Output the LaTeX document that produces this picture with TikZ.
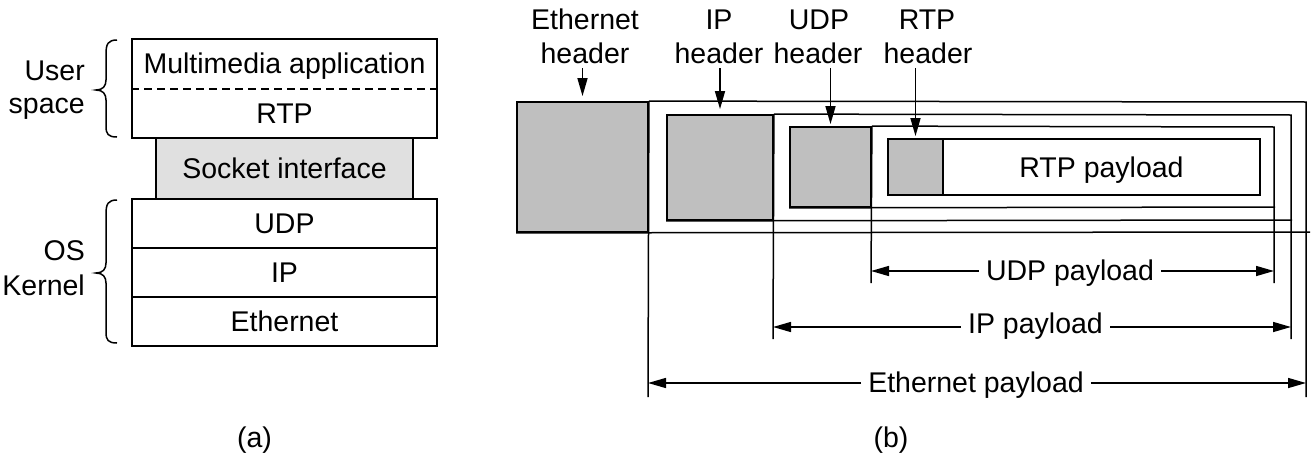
\documentclass[tikz,border=0pt]{standalone}
\usepackage{fontspec}
\setmainfont{Liberation Sans}
\usetikzlibrary{arrows.meta}
\definecolor{hdrgray}{gray}{0.75}
\definecolor{sockgray}{gray}{0.88}
\begin{document}
\begin{tikzpicture}[x=1pt,y=-1pt,
  lbl/.style={font=\fontsize{28.5pt}{34pt}\selectfont, inner sep=0pt},
  layer/.style={draw, line width=1.8pt, inner sep=0pt, minimum width=305pt, minimum height=49pt,
    font=\fontsize{28.5pt}{34pt}\selectfont, text height=20.4pt, text depth=0pt},
  hdr/.style={draw, line width=1.8pt, fill=hdrgray, inner sep=0pt},
  frame/.style={line width=1.5pt},
  tip/.style={-{Triangle[length=18pt,width=10pt]}, line width=1.5pt},
  dimlbl/.style={lbl, inner xsep=7pt, anchor=base},
  brace/.style={line width=1.5pt}
]
\useasboundingbox (0,0) rectangle (1312,458);

% ---------- (a) protocol stack ----------
\node[layer, minimum height=99pt] (user) at (284.5,88.5) {};
\coordinate (dashy) at (0,89);
\draw[line width=1.5pt, dash pattern=on 8pt off 5pt] (user.west |- dashy) -- (user.east |- dashy);
\node[lbl, anchor=base] (mm) at (284.5,73) {Multimedia application};
\node[lbl, anchor=base] (rtp) at (284.5,123) {RTP};
\node[layer, fill=sockgray, minimum width=257pt, minimum height=61pt] (sock) at (284.5,168.5) {Socket interface};
\node[layer] (udp) at (284.5,223.5) {UDP};
\node[layer] (ip) at (284.5,272.5) {IP};
\node[layer] (eth) at (284.5,321.5) {Ethernet};

\node[lbl, anchor=base east] (us1) at (85,80) {User};
\node[lbl, anchor=base east] (us2) at (85,113) {space};
\node[lbl, anchor=base east] (os1) at (85,260) {OS};
\node[lbl, anchor=base east] (os2) at (85,295) {Kernel};

\draw[brace] (117,40) .. controls (108,40) and (106,44) .. (106,54) -- (106,80)
  .. controls (106,86) and (103,90) .. (96,90)
  .. controls (103,90) and (106,94) .. (106,100) -- (106,126)
  .. controls (106,134) and (108,137) .. (117,137);
\draw[brace] (117,200) .. controls (108,200) and (106,204) .. (106,214) -- (106,263)
  .. controls (106,269) and (103,273) .. (96,273)
  .. controls (103,273) and (106,277) .. (106,283) -- (106,332)
  .. controls (106,340) and (108,343) .. (117,343);

\node[lbl, anchor=base] (la) at (254.5,447) {(a)};

% ---------- (b) packet nesting ----------
\node[hdr, minimum width=131pt, minimum height=130pt] (ethh) at (582.5,167) {};
\node[hdr, minimum width=106pt, minimum height=105pt] (iph) at (720,167.5) {};
\node[hdr, minimum width=81pt, minimum height=80pt] (udph) at (830.5,167) {};
\node[hdr, minimum width=55pt, minimum height=56pt] (rtph) at (915.5,167) {};
\node[draw, line width=1.8pt, inner sep=0pt, minimum width=317pt, minimum height=56pt,
  font=\fontsize{28.5pt}{34pt}\selectfont, text height=20.4pt, text depth=0pt] (rtpp) at (1101.5,167) {RTP payload};

% frames
\draw[frame] (ethh.north east) -- (1306,102) -- (1306,397);
\draw[frame] (ethh.south west) -- (1310,232);
\draw[frame] (ethh.north east) -- (648,397);
\draw[frame] (iph.north east) -- (1291,115) -- (1291,339);
\draw[frame] (iph.south west) -- (1292,220);
\draw[frame] (iph.north east) -- (773,339);
\draw[frame] (udph.north east) -- (1274,127) -- (1274,283);
\draw[frame] (udph.south west) -- (1275,207);
\draw[frame] (udph.north east) -- (871,283);

% header labels
\node[lbl, anchor=base] (ethl1) at (585,29) {Ethernet};
\node[lbl, anchor=base] (ethl2) at (585,63) {header};
\node[lbl, anchor=base] (ipl1) at (719,29) {IP};
\node[lbl, anchor=base] (ipl2) at (719,63) {header};
\node[lbl, anchor=base] (udpl1) at (819,29) {UDP};
\node[lbl, anchor=base] (udpl2) at (818,63) {header};
\node[lbl, anchor=base] (rtpl1) at (927,29) {RTP};
\node[lbl, anchor=base] (rtpl2) at (928,63) {header};
\coordinate (hdrtop) at (0,68);
\draw[tip, shorten >=5pt] (ethh.north |- hdrtop) -- (ethh.north);
\draw[tip, shorten >=5pt] (iph.north |- hdrtop) -- (iph.north);
\draw[tip, shorten >=2pt] (udph.north |- hdrtop) -- (udph.north);
\draw[tip, shorten >=2pt] (rtph.north |- hdrtop) -- (rtph.north);

% payload dimensions
\coordinate (udpL) at (871,271);
\coordinate (udpR) at (1274,271);
\coordinate (ipL) at (773,327);
\coordinate (ipR) at (1291,327);
\coordinate (ethL) at (648,383);
\coordinate (ethR) at (1306,383);
\node[dimlbl] (udpp) at (1070,280) {UDP payload};
\node[dimlbl] (ipp) at (1035.5,333) {IP payload};
\node[dimlbl] (ethp) at (976,392) {Ethernet payload};
\draw[tip] (udpp.west |- udpL) -- (udpL);
\draw[tip] (udpp.east |- udpR) -- (udpR);
\draw[tip] (ipp.west |- ipL) -- (ipL);
\draw[tip] (ipp.east |- ipR) -- (ipR);
\draw[tip] (ethp.west |- ethL) -- (ethL);
\draw[tip] (ethp.east |- ethR) -- (ethR);

\node[lbl, anchor=base] (lb) at (891,447) {(b)};
\end{tikzpicture}
\end{document}
